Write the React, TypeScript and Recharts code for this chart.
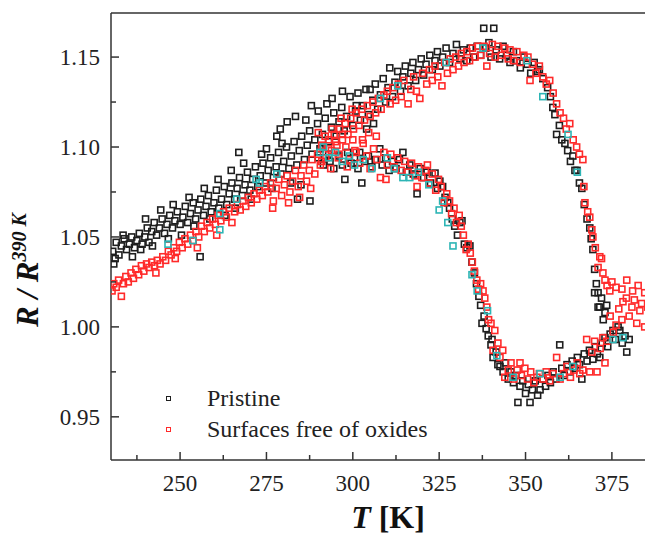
import React from "react";
import { ScatterChart, Scatter, XAxis, YAxis, ReferenceLine, Legend } from "recharts";

const FONT = '"Liberation Serif", "Times New Roman", serif';
const AXIS = "#333";
const BLACK = "#1e1e1e";
const RED = "#ff2a2a";
const CYAN = "#2db5b5";

const xMajor = [250, 275, 300, 325, 350, 375];
const xMinor = [237.5, 262.5, 287.5, 312.5, 337.5, 362.5];
const yMajor = [0.95, 1.0, 1.05, 1.1, 1.15];
const yMinor = [0.975, 1.025, 1.075, 1.125];
const xRange = [230, 386.9];
const yRange = [0.926, 1.1745];

// Pristine, heating branch [T, R/R390]
const pristineHeat: [number, number][] = [
  [230.5, 1.042], [230.8, 1.035], [231.5, 1.047], [232.3, 1.04], [233.0, 1.045], [233.8, 1.049],
  [234.5, 1.043], [235.3, 1.046], [236.0, 1.05], [236.8, 1.044], [237.5, 1.048], [238.2, 1.052],
  [239.0, 1.046], [239.8, 1.05], [240.5, 1.055], [241.0, 1.047], [241.8, 1.053], [242.5, 1.058],
  [243.2, 1.051], [244.0, 1.055], [244.8, 1.06], [245.5, 1.052], [246.2, 1.057], [247.0, 1.062],
  [247.8, 1.055], [248.5, 1.059], [249.2, 1.064], [250.0, 1.057], [250.8, 1.061], [251.5, 1.067],
  [252.2, 1.058], [253.0, 1.063], [253.8, 1.069], [254.5, 1.06], [255.2, 1.065], [255.8, 1.039],
  [256.0, 1.071], [256.8, 1.062], [257.5, 1.067], [258.2, 1.073], [259.0, 1.064], [259.8, 1.069],
  [260.5, 1.076], [261.2, 1.066], [262.0, 1.071], [262.8, 1.078], [263.5, 1.068], [264.2, 1.074],
  [265.0, 1.08], [265.8, 1.071], [266.5, 1.077], [267.0, 1.097], [267.2, 1.083], [268.0, 1.073],
  [268.8, 1.079], [269.5, 1.086], [270.2, 1.076], [271.0, 1.082], [271.8, 1.089], [272.5, 1.078],
  [273.2, 1.084], [274.0, 1.091], [274.8, 1.08], [275.0, 1.099], [275.5, 1.087], [276.2, 1.094],
  [277.0, 1.083], [277.8, 1.089], [278.0, 1.106], [278.5, 1.097], [279.2, 1.085], [279.5, 1.102],
  [280.0, 1.092], [280.8, 1.1], [281.0, 1.114], [281.5, 1.088], [282.0, 1.08], [282.2, 1.095],
  [283.0, 1.103], [283.8, 1.09], [284.0, 1.071], [284.5, 1.098], [285.0, 1.079], [285.2, 1.106],
  [286.0, 1.093], [286.8, 1.101], [287.5, 1.109], [287.6, 1.07], [288.0, 1.123], [288.2, 1.096],
  [289.0, 1.104], [289.8, 1.113], [290.5, 1.099], [291.2, 1.107], [292.0, 1.116], [292.5, 1.124],
  [293.0, 1.103], [293.8, 1.111], [294.5, 1.119], [295.2, 1.106], [296.0, 1.114], [296.8, 1.122],
  [297.5, 1.109], [298.2, 1.117], [299.2, 1.128], [300.0, 1.112], [300.8, 1.12], [301.5, 1.13],
  [302.2, 1.115], [303.0, 1.123], [303.8, 1.132], [304.5, 1.118], [305.0, 1.132], [305.8, 1.126],
  [306.5, 1.135], [307.2, 1.121], [308.0, 1.129], [308.8, 1.138], [309.5, 1.125], [310.2, 1.133],
  [310.7, 1.144], [311.5, 1.128], [312.2, 1.136], [313.0, 1.142], [313.8, 1.131], [314.5, 1.139],
  [315.2, 1.145], [316.0, 1.134], [316.8, 1.141], [317.4, 1.147], [318.2, 1.137], [319.0, 1.143],
  [319.8, 1.149], [320.5, 1.14], [321.2, 1.146], [322.3, 1.151], [323.0, 1.143], [323.8, 1.148],
  [324.5, 1.153], [325.2, 1.145], [326.0, 1.15], [327.0, 1.155], [328.0, 1.147], [329.0, 1.152],
  [330.0, 1.157], [331.0, 1.149], [332.0, 1.154], [333.0, 1.148], [334.0, 1.155], [335.0, 1.15],
  [336.0, 1.156], [337.0, 1.151], [337.9, 1.166], [338.5, 1.155], [339.4, 1.158], [340.0, 1.15],
  [340.8, 1.166], [341.5, 1.154], [342.5, 1.149], [343.5, 1.156], [344.5, 1.151], [345.5, 1.147],
  [346.5, 1.153], [347.5, 1.148], [348.5, 1.144], [349.5, 1.15], [350.5, 1.146], [351.5, 1.141],
  [352.5, 1.147], [353.5, 1.142], [354.0, 1.143], [355.0, 1.138], [356.4, 1.133], [357.2, 1.128],
  [357.9, 1.122], [358.5, 1.118], [359.0, 1.107], [359.8, 1.112], [360.5, 1.104], [361.4, 1.102],
  [362.2, 1.098], [363.0, 1.092], [363.7, 1.095], [364.3, 1.087], [364.9, 1.087], [365.6, 1.08],
  [366.3, 1.077], [367.0, 1.068], [367.8, 1.06], [368.6, 1.055], [369.0, 1.049], [369.5, 1.043],
  [370.0, 1.032], [370.5, 1.024], [371.0, 1.019], [371.5, 1.011],
  // scattered extras in the broad low-T band
  [231.2, 1.038], [233.5, 1.051], [236.2, 1.039], [238.6, 1.043], [240.0, 1.06], [242.0, 1.045],
  [244.4, 1.065], [246.6, 1.049], [248.0, 1.068], [250.4, 1.051], [252.6, 1.072], [254.0, 1.056],
  [257.0, 1.077], [258.6, 1.06], [261.0, 1.082], [263.0, 1.062], [264.8, 1.087], [266.0, 1.066],
  [268.4, 1.091], [270.6, 1.071], [273.6, 1.096], [276.6, 1.077], [279.0, 1.11], [283.4, 1.117],
  [286.4, 1.115], [290.0, 1.12], [294.0, 1.127], [297.0, 1.131], [301.0, 1.123], [304.0, 1.11],
  [306.0, 1.113],
];

// Pristine, cooling branch
const pristineCool: [number, number][] = [
  [290.0, 1.094], [291.5, 1.09], [293.0, 1.096], [293.4, 1.092], [294.5, 1.088], [296.0, 1.095],
  [297.0, 1.09], [297.7, 1.082], [298.5, 1.097], [299.5, 1.091], [300.5, 1.094], [301.5, 1.088],
  [302.0, 1.097], [302.6, 1.08], [303.5, 1.092], [304.5, 1.095], [305.5, 1.089], [306.5, 1.093],
  [307.8, 1.099], [308.5, 1.09], [309.5, 1.094], [310.5, 1.087], [311.5, 1.092], [312.5, 1.088],
  [313.5, 1.093], [314.5, 1.097], [315.5, 1.086], [316.5, 1.09], [317.5, 1.085], [318.6, 1.074],
  [319.5, 1.088], [320.5, 1.083], [321.5, 1.086], [322.5, 1.08], [323.8, 1.0855], [324.5, 1.077],
  [325.2, 1.081], [326.0, 1.078], [326.7, 1.072], [327.5, 1.069], [328.0, 1.066], [328.8, 1.06],
  [329.5, 1.056], [330.3, 1.051], [331.0, 1.058], [331.6, 1.059], [332.3, 1.046], [333.0, 1.044],
  [333.9, 1.045], [334.5, 1.036], [335.2, 1.03], [335.8, 1.024], [336.5, 1.017], [337.0, 1.012],
  [337.4, 1.002], [338.0, 1.006], [338.6, 0.999], [339.2, 0.995], [340.0, 0.99], [340.3, 0.993],
  [340.6, 0.983], [341.5, 0.986], [342.0, 0.979], [342.6, 0.978], [343.5, 0.975], [344.2, 0.98],
  [345.0, 0.971], [345.8, 0.975], [346.5, 0.969], [347.2, 0.973], [347.8, 0.958], [348.4, 0.967],
  [349.2, 0.97], [350.0, 0.963], [350.8, 0.968], [351.3, 0.958], [352.0, 0.965], [352.8, 0.97],
  [353.5, 0.962], [354.2, 0.965], [355.0, 0.971], [355.8, 0.967], [356.5, 0.973], [357.2, 0.969],
  [358.0, 0.975], [358.8, 0.971], [359.9, 0.99], [360.5, 0.977], [361.2, 0.973], [362.0, 0.979],
  [362.8, 0.975], [363.5, 0.981], [364.2, 0.977], [365.0, 0.983], [365.6, 0.979], [366.3, 0.971],
  [367.0, 0.985], [367.8, 0.981], [368.5, 0.987], [369.5, 0.982], [370.2, 0.989], [370.8, 0.985],
  [371.5, 0.983], [372.2, 0.991], [373.0, 0.994], [373.8, 0.989], [374.5, 0.996], [375.3, 0.998],
  [376.0, 0.993], [376.8, 1.0], [377.3, 0.998], [378.0, 0.991], [378.8, 0.995], [379.3, 0.986],
  [380.0, 0.993], [370.0, 1.019], [371.0, 1.011], [372.0, 1.016], [373.0, 1.008], [373.5, 1.012],
  [372.5, 1.004],
];

// Surfaces free of oxides, heating branch
const cleanHeat: [number, number][] = [
  [230.3, 1.02], [230.8, 1.024], [231.5, 1.022], [232.2, 1.026], [233.0, 1.017], [233.6, 1.024],
  [234.3, 1.028], [235.0, 1.025], [235.8, 1.03], [236.5, 1.027], [237.2, 1.032], [238.0, 1.029],
  [238.8, 1.034], [239.5, 1.031], [240.3, 1.035], [241.0, 1.033], [241.8, 1.036], [242.6, 1.034],
  [243.4, 1.037], [244.2, 1.035], [245.0, 1.039], [245.8, 1.037], [246.6, 1.042], [247.4, 1.04],
  [248.2, 1.044], [249.0, 1.042], [249.8, 1.047], [250.6, 1.044], [251.4, 1.049], [252.2, 1.046],
  [253.0, 1.051], [253.8, 1.048], [254.6, 1.053], [255.4, 1.05], [256.2, 1.056], [257.0, 1.053],
  [257.8, 1.058], [258.6, 1.055], [259.4, 1.06], [260.2, 1.057], [261.0, 1.062], [261.8, 1.059],
  [262.6, 1.064], [263.4, 1.061], [264.2, 1.066], [265.0, 1.058], [265.8, 1.064], [266.6, 1.068],
  [267.4, 1.065], [268.2, 1.07], [269.0, 1.067], [269.8, 1.072], [270.6, 1.069], [271.4, 1.074],
  [272.2, 1.071], [273.0, 1.076], [273.8, 1.073], [274.6, 1.078], [275.4, 1.075], [276.2, 1.08],
  [277.0, 1.07], [277.8, 1.077], [278.6, 1.082], [279.4, 1.073], [280.2, 1.079], [281.0, 1.084],
  [281.8, 1.075], [282.6, 1.081], [283.4, 1.087], [284.2, 1.078], [285.0, 1.084], [285.8, 1.09],
  [286.6, 1.081], [287.4, 1.087], [288.2, 1.093], [289.0, 1.085], [289.8, 1.096], [290.6, 1.09],
  [291.4, 1.1], [292.2, 1.094], [293.0, 1.104], [293.8, 1.098], [294.6, 1.107], [295.4, 1.101],
  [296.2, 1.11], [297.0, 1.104], [297.8, 1.113], [298.6, 1.107], [299.4, 1.116], [300.2, 1.11],
  [301.0, 1.119], [301.8, 1.112], [302.6, 1.121], [303.4, 1.115], [304.2, 1.123], [305.0, 1.117],
  [305.8, 1.125], [306.6, 1.119], [307.4, 1.127], [308.2, 1.121], [309.0, 1.129], [310.0, 1.131],
  [310.8, 1.124], [311.6, 1.133], [312.4, 1.126], [313.2, 1.135], [314.0, 1.128], [314.8, 1.137],
  [316.0, 1.124], [316.8, 1.132], [317.6, 1.139], [318.4, 1.131], [319.4, 1.127], [320.2, 1.141],
  [321.4, 1.135], [322.2, 1.143], [323.0, 1.137], [323.8, 1.145], [324.6, 1.139], [325.8, 1.134],
  [326.6, 1.147], [327.4, 1.141], [328.2, 1.149], [329.0, 1.143], [329.8, 1.15], [330.6, 1.145],
  [331.4, 1.152], [332.2, 1.147], [333.0, 1.153], [333.8, 1.148], [334.6, 1.155], [335.4, 1.15],
  [336.2, 1.156], [337.0, 1.151], [338.0, 1.156], [338.8, 1.145], [339.6, 1.152], [340.4, 1.157],
  [341.2, 1.15], [342.0, 1.156], [343.0, 1.151], [344.0, 1.155], [345.0, 1.149], [345.5, 1.154],
  [346.5, 1.148], [347.5, 1.153], [348.5, 1.147], [349.5, 1.151], [350.7, 1.15], [351.3, 1.137],
  [352.0, 1.146], [353.0, 1.141], [354.0, 1.145], [355.0, 1.139], [356.0, 1.135], [357.0, 1.137],
  [358.0, 1.13], [359.0, 1.124], [360.0, 1.119], [361.0, 1.116], [361.8, 1.11], [362.8, 1.113],
  [363.8, 1.104], [364.8, 1.1], [365.6, 1.096], [366.6, 1.093], [366.9, 1.078], [367.2, 1.069],
  [368.0, 1.064], [368.6, 1.061], [369.2, 1.054], [369.5, 1.05], [370.2, 1.044], [371.0, 1.033],
  [371.5, 1.039], [372.0, 1.038], [372.4, 1.03], [373.0, 1.026], [373.6, 1.023], [374.4, 1.02],
  [375.0, 1.025], [376.2, 1.022], [377.9, 1.021], [379.3, 1.026], [381.0, 1.02], [382.6, 1.023],
  [384.5, 1.019], [386.0, 1.022],
  // scattered extras
  [243.0, 1.03], [248.6, 1.038], [255.0, 1.044], [260.6, 1.051], [276.8, 1.066], [281.4, 1.069],
  [284.6, 1.072], [287.8, 1.077], [296.6, 1.116], [299.8, 1.121],
];

// Surfaces free of oxides, cooling branch
const cleanCool: [number, number][] = [
  [386.4, 1.006], [385.4, 1.011], [384.5, 1.0], [383.6, 1.013], [383.1, 1.009], [382.2, 1.002],
  [381.5, 1.015], [380.8, 1.011], [380.0, 1.006], [379.2, 1.016], [378.2, 1.014], [377.9, 1.004],
  [377.0, 1.01], [376.2, 1.001], [375.4, 0.997], [374.5, 1.006], [373.5, 0.992], [373.0, 0.98],
  [372.4, 0.994], [371.6, 0.988], [370.7, 0.975], [370.0, 0.992], [369.2, 0.986], [368.6, 0.975],
  [367.7, 0.993], [366.6, 0.976], [365.7, 0.974], [365.0, 0.98], [364.0, 0.976], [363.0, 0.972],
  [362.0, 0.978], [361.0, 0.974], [360.0, 0.971], [359.0, 0.983], [358.0, 0.974], [357.0, 0.97],
  [356.0, 0.975], [355.0, 0.971], [354.0, 0.974], [353.3, 0.972], [352.4, 0.969], [351.5, 0.975],
  [350.6, 0.971], [349.8, 0.977], [348.8, 0.973], [348.4, 0.98], [347.6, 0.976], [346.6, 0.971],
  [345.8, 0.98], [345.0, 0.976], [344.0, 0.972], [343.4, 0.987], [342.6, 0.983], [342.0, 0.991],
  [341.1, 0.998], [340.6, 0.987], [340.0, 1.002], [339.3, 1.004], [338.8, 1.011], [338.2, 1.016],
  [337.7, 1.02], [337.0, 1.024], [336.4, 1.021], [335.9, 1.026], [335.2, 1.031], [334.6, 1.036],
  [334.0, 1.041], [333.4, 1.046], [332.8, 1.043], [332.0, 1.051], [331.4, 1.056], [330.8, 1.062],
  [330.0, 1.058], [329.3, 1.066], [328.6, 1.063], [328.0, 1.07], [327.2, 1.074], [326.4, 1.069],
  [325.6, 1.078], [324.8, 1.082], [324.0, 1.076], [323.0, 1.085], [322.0, 1.08], [321.0, 1.087],
  [320.0, 1.083], [319.0, 1.089], [318.0, 1.084], [317.0, 1.091], [316.0, 1.086], [315.0, 1.092],
  [314.0, 1.087], [313.0, 1.094], [312.0, 1.089], [311.0, 1.096], [310.0, 1.09], [309.0, 1.097],
  [308.0, 1.083], [307.0, 1.093], [306.0, 1.099], [305.0, 1.088], [304.0, 1.095], [303.0, 1.102],
  [302.0, 1.091], [301.0, 1.097], [300.0, 1.104], [299.0, 1.093], [298.0, 1.1], [297.0, 1.107],
  [296.0, 1.096], [295.0, 1.103], [294.0, 1.11], [293.0, 1.099], [292.0, 1.106], [291.0, 1.101],
  [290.0, 1.108],
  // scattered extras in the crossing cluster
  [291.0, 1.092], [293.6, 1.088], [295.8, 1.094], [298.4, 1.089], [300.6, 1.098], [302.8, 1.104],
  [304.6, 1.108], [306.8, 1.106], [309.6, 1.082], [318.6, 1.078], [321.6, 1.09],
];

// points where both runs overlap (drawn cyan in the figure)
const overlap: [number, number][] = [
  [246.5, 1.046], [253.7, 1.048], [261.5, 1.063], [261.5, 1.054], [266.4, 1.071], [272.0, 1.082],
  [273.0, 1.08], [278.0, 1.085], [290.5, 1.097], [291.5, 1.1], [293.0, 1.094], [295.0, 1.097],
  [297.0, 1.092], [299.0, 1.095], [300.5, 1.09], [303.0, 1.093], [305.5, 1.088], [308.0, 1.127],
  [310.0, 1.094], [312.0, 1.088], [313.0, 1.134], [314.5, 1.083], [316.5, 1.083], [319.0, 1.086],
  [322.0, 1.079], [325.0, 1.065], [326.0, 1.07], [327.0, 1.147], [327.5, 1.058], [329.0, 1.045],
  [334.5, 1.029], [336.0, 1.02], [337.7, 1.155], [339.0, 1.009], [341.7, 0.984], [346.4, 0.972],
  [350.4, 1.148], [354.2, 0.974], [355.0, 1.128], [360.0, 0.972], [362.3, 1.107], [363.7, 0.978],
  [365.0, 1.086], [375.3, 0.993], [378.2, 0.994],
];

const toPts = (rows: [number, number][]) => rows.map(([x, y]) => ({ x, y }));
const pristineData = toPts([...pristineHeat, ...pristineCool]);
const cleanData = toPts([...cleanHeat, ...cleanCool]);
const overlapData = toPts(overlap);

const square = (color: string) => (p: any) => (
  <rect x={p.cx - 3} y={p.cy - 3} width={6} height={6} fill="none" stroke={color} strokeWidth={1.6} />
);

const XTick = (p: any) => {
  const v = p.payload.value;
  const major = xMajor.includes(v);
  return (
    <g>
      <line x1={p.x} x2={p.x} y1={p.y} y2={p.y - (major ? 8 : 5)} stroke={AXIS} strokeWidth={1.5} />
      {major && (
        <text x={p.x} y={p.y + 31} textAnchor="middle" fontFamily={FONT} fontSize={23} fill="#222">
          {v}
        </text>
      )}
    </g>
  );
};

const YTick = (p: any) => {
  const v = p.payload.value;
  const major = yMajor.includes(v);
  return (
    <g>
      <line x1={p.x} x2={p.x + (major ? 8 : 5)} y1={p.y} y2={p.y} stroke={AXIS} strokeWidth={1.5} />
      {major && (
        <text x={p.x - 11} y={p.y} dy="0.35em" textAnchor="end" fontFamily={FONT} fontSize={23} fill="#222">
          {v.toFixed(2)}
        </text>
      )}
    </g>
  );
};

const xLabel = (p: any) => {
  const vb = p.viewBox;
  return (
    <text x={vb.x + vb.width / 2 + 6} y={vb.y + 68} textAnchor="middle" fontFamily={FONT} fontSize={32} fontWeight="bold" fill="#111">
      <tspan fontStyle="italic">T</tspan>
      <tspan> [K]</tspan>
    </text>
  );
};

const yLabel = () => (
  <text transform="rotate(-90, 30, 319)" x={30} y={319} fontFamily={FONT} fontSize={31} fontWeight="bold" fontStyle="italic" fill="#111">
    <tspan>R / R</tspan>
    <tspan fontSize={20} dy={-12}>390 K</tspan>
  </text>
);

const legendItems = [
  { name: "Pristine", color: BLACK },
  { name: "Surfaces free of oxides", color: RED },
];

const LegendBox = () => (
  <div style={{ fontFamily: FONT, fontSize: 24, color: "#222" }}>
    {legendItems.map((it) => (
      <div key={it.name} style={{ display: "flex", alignItems: "center", height: 31, lineHeight: "31px", whiteSpace: "nowrap" }}>
        <span style={{ display: "inline-block", width: 3, height: 3, border: `1.5px solid ${it.color}`, marginLeft: 3, marginRight: 36 }} />
        <span>{it.name}</span>
      </div>
    ))}
  </div>
);

export default function App() {
  return (
    <div style={{ width: 645, height: 529 }}>
      <ScatterChart width={645} height={529} margin={{ top: 5, right: 0, bottom: 0, left: 0 }}>
        <XAxis
          type="number"
          dataKey="x"
          domain={xRange}
          allowDataOverflow
          ticks={[...xMinor, ...xMajor].sort((a, b) => a - b)}
          tick={<XTick />}
          tickLine={false}
          tickSize={0}
          tickMargin={0}
          interval={0}
          height={77}
          axisLine={{ stroke: AXIS, strokeWidth: 1.5 }}
          label={xLabel}
        />
        <YAxis
          type="number"
          dataKey="y"
          domain={yRange}
          allowDataOverflow
          ticks={[...yMajor, ...yMinor].sort((a, b) => a - b)}
          tick={<YTick />}
          tickLine={false}
          tickSize={0}
          tickMargin={0}
          interval={0}
          width={103}
          axisLine={{ stroke: AXIS, strokeWidth: 1.5 }}
          label={yLabel}
        />
        <ReferenceLine y={yRange[1]} stroke={AXIS} strokeWidth={1.5} ifOverflow="visible" />
        <Scatter name="Pristine" data={pristineData} fill={BLACK} shape={square(BLACK)} isAnimationActive={false} />
        <Scatter name="Surfaces free of oxides" data={cleanData} fill={RED} shape={square(RED)} isAnimationActive={false} />
        <Scatter name="overlap" data={overlapData} fill={CYAN} shape={square(CYAN)} isAnimationActive={false} legendType="none" />
        <Legend
          layout="vertical"
          align="center"
          verticalAlign="middle"
          content={<LegendBox />}
          wrapperStyle={{ position: "absolute", left: 155, top: 375, width: 320, height: 64 }}
        />
      </ScatterChart>
    </div>
  );
}
